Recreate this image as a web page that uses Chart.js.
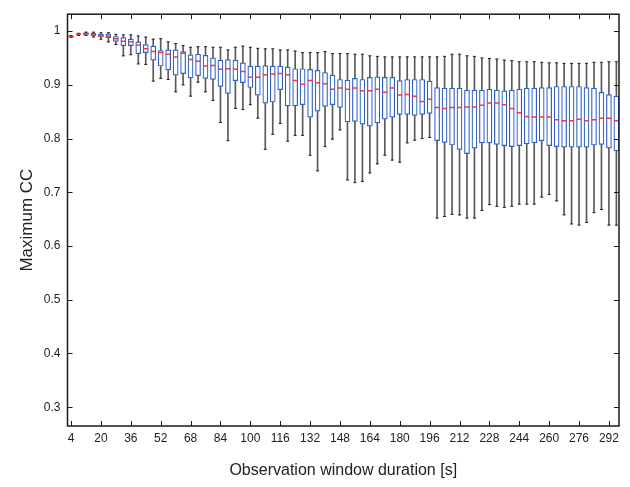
<!DOCTYPE html>
<html><head><meta charset="utf-8">
<script src="https://cdn.jsdelivr.net/npm/chart.js@4/dist/chart.umd.min.js"></script>
<style>html,body{margin:0;padding:0;background:#fff;}#wrap{width:630px;height:487px;}</style>
</head><body><div id="wrap"><canvas id="c" width="630" height="487"></canvas></div>
<script>
const durations = [4,8,12,16,20,24,28,32,36,40,44,48,52,56,60,64,68,72,76,80,84,88,92,96,100,104,108,112,116,120,124,128,132,136,140,144,148,152,156,160,164,168,172,176,180,184,188,192,196,200,204,208,212,216,220,224,228,232,236,240,244,248,252,256,260,264,268,272,276,280,284,288,292,296];
const whiskerLow = [.988,.992,.992,.989,.985,.980,.975,.954,.956,.939,.938,.907,.912,.910,.887,.900,.879,.905,.887,.871,.830,.796,.856,.854,.863,.838,.780,.808,.828,.795,.806,.806,.769,.740,.785,.799,.816,.723,.718,.720,.736,.753,.769,.760,.756,.792,.797,.800,.802,.652,.655,.659,.658,.652,.652,.666,.677,.674,.672,.674,.678,.678,.678,.691,.696,.684,.658,.641,.639,.644,.662,.668,.639,.639];
const q1 = [.989,.993,.993,.991,.989,.988,.981,.973,.973,.958,.960,.946,.935,.928,.918,.921,.913,.917,.912,.910,.897,.884,.908,.904,.895,.881,.866,.868,.891,.861,.861,.863,.840,.851,.860,.863,.858,.831,.832,.827,.823,.829,.836,.840,.845,.845,.843,.845,.847,.796,.793,.788,.780,.772,.782,.792,.792,.789,.787,.785,.787,.790,.792,.796,.787,.785,.784,.784,.784,.784,.788,.789,.782,.777];
const median = [.990,.994,.995,.993,.991,.991,.986,.981,.980,.974,.967,.962,.960,.957,.952,.959,.947,.944,.935,.936,.929,.930,.929,.925,.914,.914,.919,.920,.921,.919,.908,.901,.908,.904,.902,.892,.894,.892,.894,.889,.889,.892,.886,.894,.881,.882,.879,.869,.873,.858,.856,.858,.858,.859,.859,.862,.866,.866,.863,.856,.848,.841,.840,.840,.840,.835,.833,.833,.836,.833,.835,.838,.838,.833];
const q3 = [.991,.995,.997,.996,.994,.995,.990,.988,.985,.980,.975,.972,.964,.965,.965,.962,.956,.957,.955,.950,.946,.947,.946,.941,.935,.935,.936,.935,.935,.933,.930,.930,.929,.927,.923,.918,.910,.909,.912,.910,.914,.915,.914,.914,.908,.910,.910,.910,.907,.895,.894,.894,.894,.890,.890,.890,.892,.890,.889,.890,.892,.894,.894,.895,.895,.897,.897,.897,.897,.895,.894,.886,.882,.879];
const whiskerHigh = [.992,.996,.998,.998,.997,.997,.994,.993,.993,.991,.989,.985,.986,.980,.977,.973,.970,.971,.971,.970,.970,.965,.970,.972,.970,.968,.967,.967,.965,.965,.963,.960,.960,.960,.962,.958,.958,.958,.957,.957,.954,.953,.952,.952,.952,.952,.952,.952,.952,.952,.953,.957,.957,.954,.953,.950,.949,.948,.946,.945,.943,.943,.943,.942,.941,.941,.940,.940,.940,.940,.942,.942,.943,.943];
const xTickValues = [4,20,36,52,68,84,100,116,132,148,164,180,196,212,228,244,260,276,292];
const yTickValues = [0.3,0.4,0.5,0.6,0.7,0.8,0.9,1];

const FONT = 'Liberation Sans, Arial, Helvetica, sans-serif';

const framePlugin = {
  id: 'frame',
  afterDatasetsDraw(chart) {
    const {ctx, chartArea: a, scales: {x, y}} = chart;
    ctx.save();
    ctx.strokeStyle = '#1a1a1a';
    ctx.lineWidth = 1;
    ctx.beginPath();
    xTickValues.forEach(v => {
      const px = Math.round(x.getPixelForValue(v)) + 0.5;
      ctx.moveTo(px, a.bottom); ctx.lineTo(px, a.bottom - 5);
      ctx.moveTo(px, a.top); ctx.lineTo(px, a.top + 5);
    });
    yTickValues.forEach(v => {
      const py = Math.round(y.getPixelForValue(v)) + 0.5;
      ctx.moveTo(a.left, py); ctx.lineTo(a.left + 5, py);
      ctx.moveTo(a.right, py); ctx.lineTo(a.right - 5, py);
    });
    ctx.stroke();
    ctx.lineWidth = 1.5;
    ctx.strokeRect(a.left, a.top, a.right - a.left, a.bottom - a.top);
    ctx.restore();
  }
};

const whiskerData = durations.map((d, i) => ({x: d, y: [whiskerLow[i], whiskerHigh[i]]}));
const boxData = durations.map((d, i) => ({x: d, y: [q1[i], q3[i]]}));
const capData = durations.flatMap((d, i) => [{x: d, y: whiskerLow[i]}, {x: d, y: whiskerHigh[i]}]);
const medianData = durations.map((d, i) => ({x: d, y: median[i]}));

new Chart(document.getElementById('c'), {
  type: 'bar',
  data: {
    datasets: [
      {type: 'bar', data: whiskerData, backgroundColor: '#5a5a5a', borderWidth: 0, barThickness: 1, grouped: false, order: 5},
      {type: 'bar', data: boxData, backgroundColor: '#ffffff', borderColor: '#2d5fc4', borderWidth: 1.2, borderSkipped: false, barThickness: 5, grouped: false, order: 4},
      {type: 'scatter', data: capData, pointStyle: 'line', pointRadius: 1.5, pointBorderColor: '#222', pointBorderWidth: 1, pointBackgroundColor: '#222', order: 2},
      {type: 'scatter', data: medianData, pointStyle: 'line', pointRadius: 2.5, pointBorderColor: '#ee3b3b', pointBorderWidth: 1.5, pointBackgroundColor: '#ee3b3b', order: 1}
    ]
  },
  options: {
    responsive: false,
    animation: false,
    devicePixelRatio: 1,
    layout: {padding: {top: 13, right: 11, left: 0, bottom: 0}},
    plugins: {legend: {display: false}, tooltip: {enabled: false}},
    scales: {
      x: {
        type: 'linear', min: 2.1, max: 297.4, offset: false,
        grid: {display: false, drawTicks: false}, border: {display: false},
        afterBuildTicks: s => { s.ticks = xTickValues.map(v => ({value: v})); },
        ticks: {autoSkip: false, maxRotation: 0, padding: 5, color: '#222', font: {family: FONT, size: 12}, callback: v => String(v)},
        title: {display: true, text: 'Observation window duration [s]', color: '#222', font: {family: FONT, size: 16}, padding: {top: 0, bottom: 7}},
        afterFit: s => { s.height = 61; }
      },
      y: {
        type: 'linear', min: 0.265, max: 1.0315,
        grid: {display: false, drawTicks: false}, border: {display: false},
        afterBuildTicks: s => { s.ticks = yTickValues.map(v => ({value: v})); },
        ticks: {padding: 7, color: '#222', font: {family: FONT, size: 12}, callback: v => (v === 1 ? '1' : Number(v).toFixed(1))},
        title: {display: true, text: 'Maximum CC', color: '#222', font: {family: FONT, size: 17}, padding: {top: 17, bottom: 0}},
        afterFit: s => { s.width = 67.5; }
      }
    }
  },
  plugins: [framePlugin]
});
</script>
</body></html>
